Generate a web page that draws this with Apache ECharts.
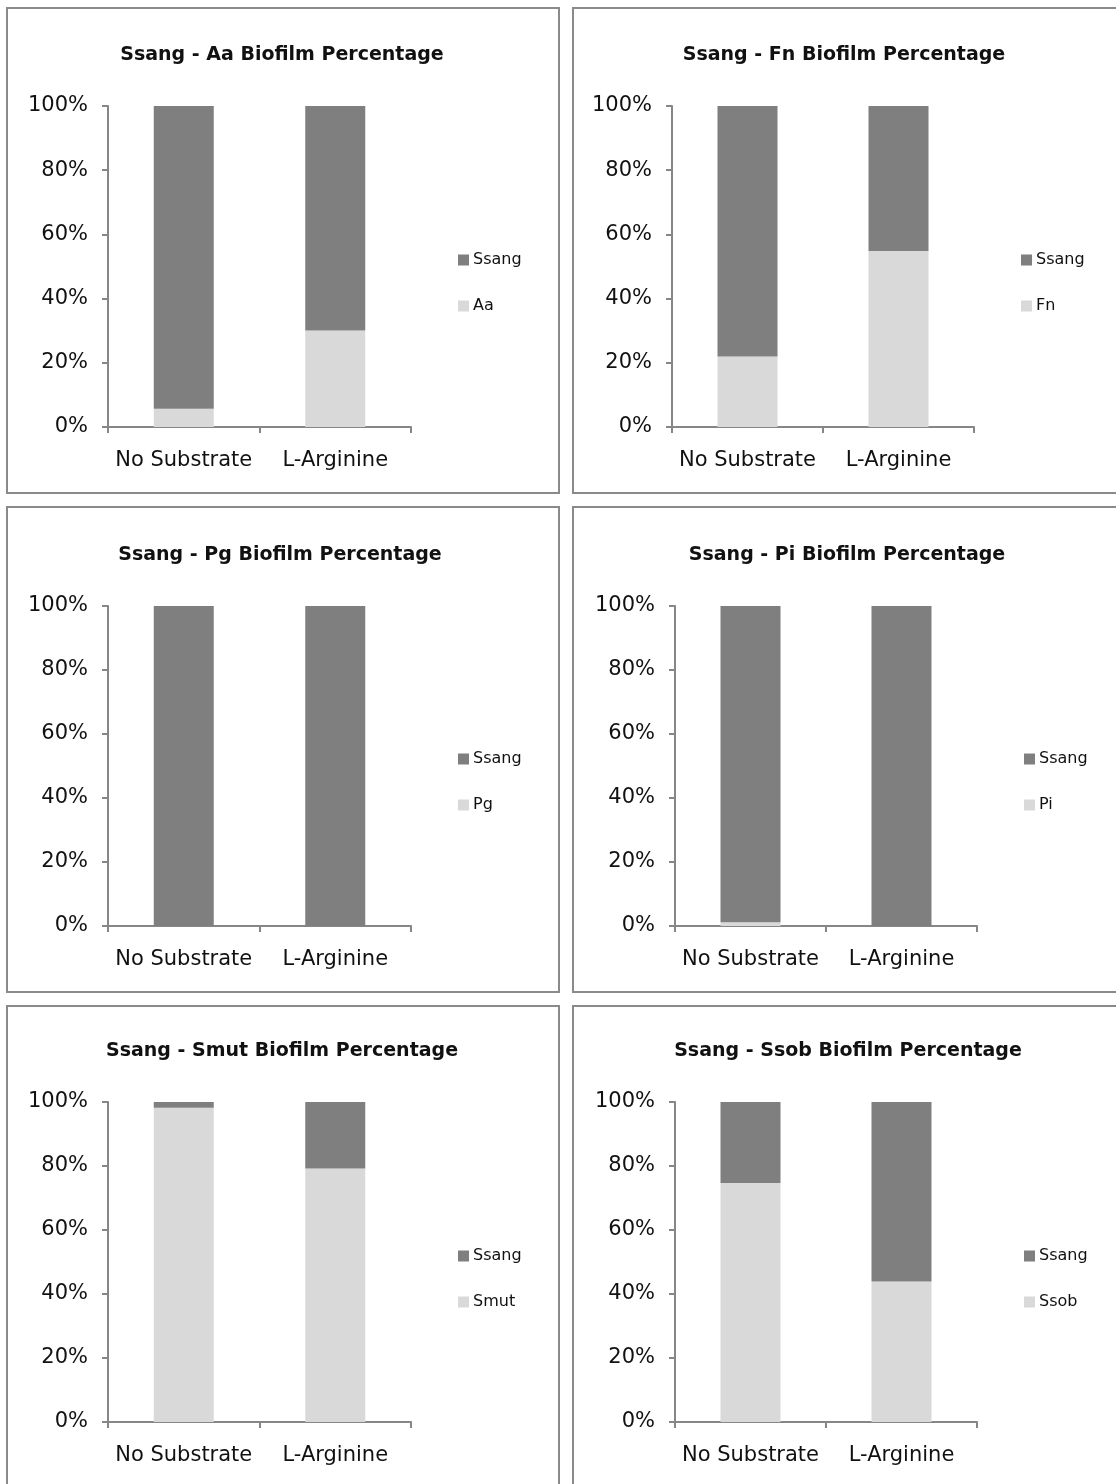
<!DOCTYPE html>
<html>
<head>
<meta charset="utf-8">
<script src="https://cdn.jsdelivr.net/npm/echarts@6/dist/echarts.min.js"></script>
<style>
  html, body { margin: 0; padding: 0; background: #ffffff; }
  #chart { width: 1116px; height: 1484px; }
</style>
</head>
<body>
<div id="chart"></div>
<script>
// ---------- DATA ----------
const categories = ['No Substrate', 'L-Arginine'];
const yTicks = ['0%', '20%', '40%', '60%', '80%', '100%'];

const titles = [
  'Ssang - Aa Biofilm Percentage',
  'Ssang - Fn Biofilm Percentage',
  'Ssang - Pg Biofilm Percentage',
  'Ssang - Pi Biofilm Percentage',
  'Ssang - Smut Biofilm Percentage',
  'Ssang - Ssob Biofilm Percentage'
];
const partnerNames = ['Aa', 'Fn', 'Pg', 'Pi', 'Smut', 'Ssob'];

// partner species share (%), bottom segment
const aaPct   = [5.7, 30.1];
const fnPct   = [22.0, 54.8];
const pgPct   = [0, 0];
const piPct   = [1.2, 0];
const smutPct = [98.2, 79.2];
const ssobPct = [74.7, 43.9];

// Ssang share (%), top segment
const ssangAa   = [94.3, 69.9];
const ssangFn   = [78.0, 45.2];
const ssangPg   = [100, 100];
const ssangPi   = [98.8, 100];
const ssangSmut = [1.8, 20.8];
const ssangSsob = [25.3, 56.1];

const partnerData = [aaPct, fnPct, pgPct, piPct, smutPct, ssobPct];
const ssangData = [ssangAa, ssangFn, ssangPg, ssangPi, ssangSmut, ssangSsob];

// ---------- LAYOUT ----------
const layout = [
  { grid: [108, 106, 303, 321], title: [282, 53],  legend: [458, 260],  box: [7, 8, 552, 485] },
  { grid: [672, 106, 302, 321], title: [844, 53],  legend: [1021, 260], box: [573, 8, 600, 485] },
  { grid: [108, 606, 303, 320], title: [280, 553], legend: [458, 759],  box: [7, 507, 552, 485] },
  { grid: [675, 606, 302, 320], title: [847, 553], legend: [1024, 759], box: [573, 507, 600, 485] },
  { grid: [108, 1102, 303, 320], title: [282, 1049], legend: [458, 1256], box: [7, 1006, 552, 520] },
  { grid: [675, 1102, 302, 320], title: [848, 1049], legend: [1024, 1256], box: [573, 1006, 600, 520] }
];

const DARK = '#7f7f7f';
const LIGHT = '#d9d9d9';
const AXIS = '#868686';
const TEXT = '#111111';
const FONT = 'DejaVu Sans';

const option = {
  backgroundColor: '#ffffff',
  animation: false,
  textStyle: { fontFamily: FONT },
  title: [], legend: [], grid: [], xAxis: [], yAxis: [], series: [],
  graphic: []
};

layout.forEach((L, i) => {
  option.graphic.push({
    type: 'rect', silent: true,
    shape: { x: L.box[0], y: L.box[1], width: L.box[2], height: L.box[3] },
    style: { fill: 'none', stroke: '#8a8a8a', lineWidth: 2 }
  });
  option.title.push({
    text: titles[i],
    left: L.title[0], top: L.title[1] - 9,
    textAlign: 'center', padding: 0,
    textStyle: { fontFamily: FONT, fontSize: 19, fontWeight: 'bold', color: TEXT, lineHeight: 22 }
  });
  option.legend.push({
    data: ['Ssang', partnerNames[i]],
    orient: 'vertical',
    left: L.legend[0], top: L.legend[1] - 8,
    padding: 0, itemWidth: 11, itemHeight: 11, itemGap: 30,
    icon: 'rect', selectedMode: false,
    textStyle: { fontFamily: FONT, fontSize: 16, color: TEXT, lineHeight: 16, padding: [0, 0, 0, -1] }
  });
  option.grid.push({
    left: L.grid[0], top: L.grid[1], width: L.grid[2], height: L.grid[3], containLabel: false
  });
  option.xAxis.push({
    type: 'category', gridIndex: i, data: categories,
    boundaryGap: true,
    axisLine: { show: true, lineStyle: { color: AXIS, width: 2 } },
    axisTick: { show: true, alignWithLabel: false, length: 6, lineStyle: { color: AXIS, width: 2 } },
    axisLabel: { margin: 23, fontFamily: FONT, fontSize: 21, color: TEXT, interval: 0 }
  });
  option.yAxis.push({
    type: 'value', gridIndex: i, min: 0, max: 100, interval: 20,
    axisLine: { show: true, lineStyle: { color: AXIS, width: 2 } },
    axisTick: { show: true, length: 6, lineStyle: { color: AXIS, width: 2 } },
    splitLine: { show: false },
    axisLabel: {
      margin: 20, fontFamily: FONT, fontSize: 21, color: TEXT,
      formatter: v => yTicks[Math.round(v / 20)]
    }
  });
  option.series.push({
    name: partnerNames[i], type: 'bar', stack: 'p' + i,
    xAxisIndex: i, yAxisIndex: i, barWidth: 60,
    itemStyle: { color: LIGHT }, data: partnerData[i]
  });
  option.series.push({
    name: 'Ssang', type: 'bar', stack: 'p' + i,
    xAxisIndex: i, yAxisIndex: i, barWidth: 60,
    itemStyle: { color: DARK }, data: ssangData[i]
  });
});

const chart = echarts.init(document.getElementById('chart'), null, { renderer: 'canvas', width: 1116, height: 1484 });
chart.setOption(option);
</script>
</body>
</html>
